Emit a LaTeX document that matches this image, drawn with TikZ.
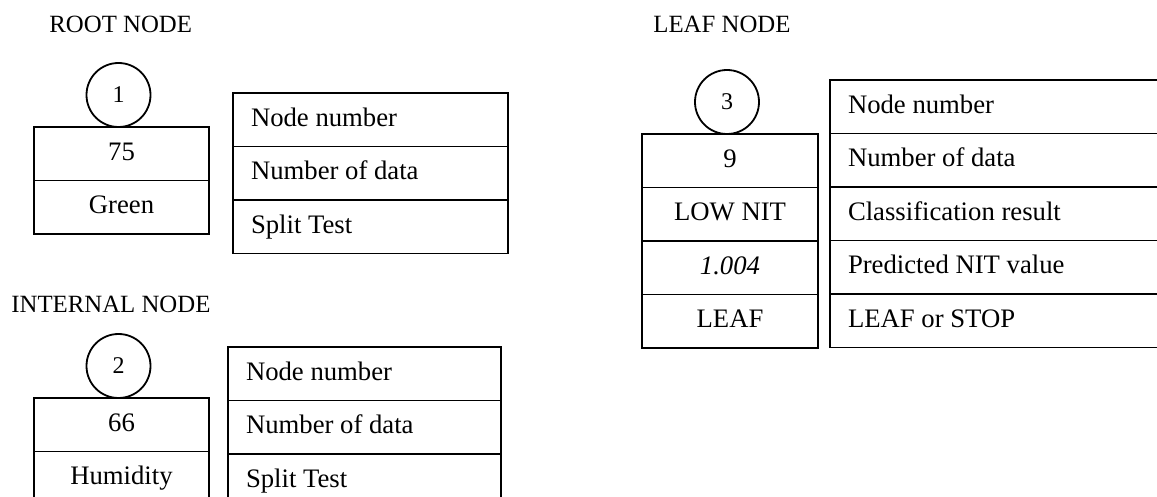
\documentclass[tikz,border=0pt]{standalone}
\usepackage{fontspec}
\setmainfont{Liberation Serif}
\usetikzlibrary{positioning}

\begin{document}
\begin{tikzpicture}[x=0.5pt, y=-0.5pt,
  cell/.style={draw, line width=0.9pt, minimum height=26.75pt, inner sep=0pt,
    outer sep=0pt, font=\fontsize{13.35}{16}\selectfont, text height=0.66em, text depth=0pt},
  valcell/.style={cell, minimum width=#1},
  keycell/.style={cell, text width=#1, align=flush left, inner xsep=9pt},
  numcircle/.style={draw, circle, line width=0.9pt, minimum size=32pt, inner sep=0pt,
    outer sep=0pt, font=\fontsize{12}{14}\selectfont},
  title/.style={anchor=base west, inner sep=0pt, font=\fontsize{12.4}{15}\selectfont}]
  % picture frame, boxes run off the bottom and right edges
  \useasboundingbox (0,0) rectangle (1157,497);
  \clip (0,0) rectangle (1157,497);

  % Root node
  \node[title] (roottitle) at (49,33) {ROOT NODE};
  \node[valcell=87.5pt, anchor=north west] (root1) at (34,127) {75};
  \node[valcell=87.5pt, below=0pt of root1] (root2) {Green};
  \node[numcircle, above=0pt of root1, xshift=-1.5pt] (rootnum) {1};
  \node[keycell=119.5pt, anchor=north west] (rootkey1) at (233,93) {Node number};
  \node[keycell=119.5pt, below=0pt of rootkey1] (rootkey2) {Number of data};
  \node[keycell=119.5pt, below=0pt of rootkey2] (rootkey3) {Split Test};

  % Internal node
  \node[title] (inttitle) at (11,313) {INTERNAL NODE};
  \node[valcell=87.5pt, anchor=north west] (int1) at (34,398) {66};
  \node[valcell=87.5pt, below=0pt of int1] (int2) {Humidity};
  \node[numcircle, above=0pt of int1, xshift=-1.5pt] (intnum) {2};
  \node[keycell=118.5pt, anchor=north west] (intkey1) at (228,347) {Node number};
  \node[keycell=118.5pt, below=0pt of intkey1] (intkey2) {Number of data};
  \node[keycell=118.5pt, below=0pt of intkey2] (intkey3) {Split Test};

  % Leaf node
  \node[title] (leaftitle) at (653,33) {LEAF NODE};
  \node[valcell=88pt, anchor=north west] (leaf1) at (642,134) {9};
  \node[valcell=88pt, below=0pt of leaf1] (leaf2) {LOW NIT};
  \node[valcell=88pt, below=0pt of leaf2] (leaf3) {\textit{1.004}};
  \node[valcell=88pt, below=0pt of leaf3] (leaf4) {LEAF};
  \node[numcircle, above=0pt of leaf1, xshift=-1.5pt] (leafnum) {3};
  \node[keycell=147pt, anchor=north west] (leafkey1) at (830,80) {Node number};
  \node[keycell=147pt, below=0pt of leafkey1] (leafkey2) {Number of data};
  \node[keycell=147pt, below=0pt of leafkey2] (leafkey3) {Classification result};
  \node[keycell=147pt, below=0pt of leafkey3] (leafkey4) {Predicted NIT value};
  \node[keycell=147pt, below=0pt of leafkey4] (leafkey5) {LEAF or STOP};
\end{tikzpicture}
\end{document}
